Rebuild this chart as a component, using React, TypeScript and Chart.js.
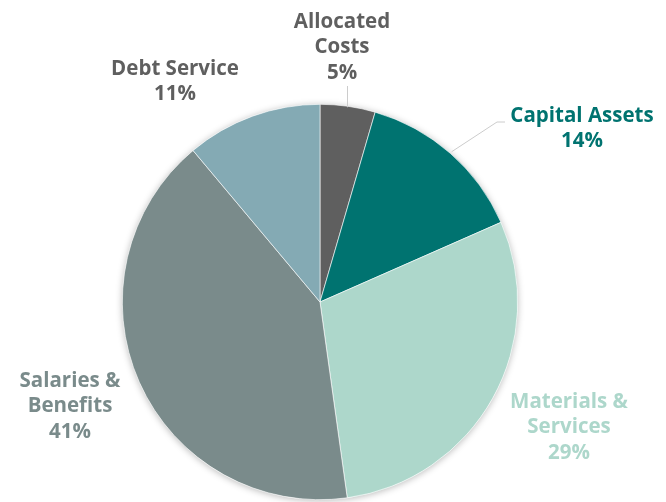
import React, { useEffect, useRef } from "react";
import { Chart, registerables } from "chart.js";

Chart.register(...registerables);

const categories = ["Allocated Costs", "Capital Assets", "Materials & Services", "Salaries & Benefits", "Debt Service"];
const values = [4.5, 13.9, 29.4, 41.1, 11.1];
const sliceColors = ["#5f5f5f", "#007370", "#add7cb", "#7a8b8b", "#84aab4"];
const labelLines = [["Allocated", "Costs"], ["Capital Assets"], ["Materials &", "Services"], ["Salaries &", "Benefits"], ["Debt Service"]];
const labelColors = ["#5f5f5f", "#007370", "#add7cb", "#7a8b8b", "#5f5f5f"];

// label centre (first line) relative to pie centre
const labelAnchor = [
  [22, -280],
  [262, -186],
  [249, 100],
  [-250, 79],
  [-145, -233],
];

const FONT = "bold 20.5px 'Open Sans', sans-serif";
const LH = 25.5;

const labelPlugin = {
  id: "outLabels",
  beforeDatasetsDraw(chart: any) {
    const ctx = chart.ctx;
    ctx.save();
    ctx.shadowColor = "rgba(0,0,0,0.28)";
    ctx.shadowBlur = 7;
    ctx.shadowOffsetX = 0;
    ctx.shadowOffsetY = 1;
    const arc = chart.getDatasetMeta(0).data[0];
    ctx.beginPath();
    ctx.arc(arc.x, arc.y, arc.outerRadius, 0, Math.PI * 2);
    ctx.fillStyle = "#ffffff";
    ctx.fill();
    ctx.restore();
  },
  afterDatasetsDraw(chart: any) {
    const ctx = chart.ctx;
    const meta = chart.getDatasetMeta(0);
    const total = values.reduce((a, b) => a + b, 0);
    ctx.save();
    const a0 = meta.data[0];
    const cx = a0.x, cy = a0.y, r = a0.outerRadius;
    ctx.strokeStyle = "#cccccc";
    ctx.lineWidth = 1;
    {
      const el = meta.data[0];
      const mid = (el.startAngle + el.endAngle) / 2;
      const py = cy + Math.sin(mid) * r;
      ctx.beginPath();
      ctx.moveTo(cx + labelAnchor[0][0] + 5.5, py + 1);
      ctx.lineTo(cx + labelAnchor[0][0] + 5.5, cy + labelAnchor[0][1] + 2 * LH + 13);
      ctx.stroke();
    }
    {
      const el = meta.data[1];
      const mid = (el.startAngle + el.endAngle) / 2;
      const px = cx + Math.cos(mid) * (r + 2);
      const py = cy + Math.sin(mid) * (r + 2);
      const ly = cy + labelAnchor[1][1] + 6;
      ctx.beginPath();
      ctx.moveTo(px, py);
      ctx.lineTo(cx + 177, ly);
      ctx.lineTo(cx + 185, ly);
      ctx.stroke();
    }
    ctx.font = FONT;
    ctx.textAlign = "center";
    ctx.textBaseline = "middle";
    meta.data.forEach((el: any, i: number) => {
      const pct = Math.round((values[i] / total) * 100) + "%";
      const lines = [...labelLines[i], pct];
      ctx.fillStyle = labelColors[i];
      lines.forEach((t, k) => {
        ctx.fillText(t, cx + labelAnchor[i][0], cy + labelAnchor[i][1] + k * LH);
      });
    });
    ctx.restore();
  },
};

export default function App() {
  const ref = useRef<HTMLCanvasElement>(null);
  useEffect(() => {
    if (!ref.current) return;
    const chart = new Chart(ref.current, {
      type: "pie",
      data: {
        labels: categories,
        datasets: [
          {
            data: values,
            backgroundColor: sliceColors,
            borderWidth: 0.6,
            borderColor: "#ffffff",
          },
        ],
      },
      options: {
        animation: false,
        responsive: false,
        maintainAspectRatio: false,
        layout: { padding: { top: 104, bottom: 2, left: 122, right: 148 } },
        plugins: {
          legend: { display: false },
          tooltip: { enabled: false },
        },
      },
      plugins: [labelPlugin],
    });
    return () => chart.destroy();
  }, []);
  return (
    <div style={{ position: "fixed", left: 0, top: 0, width: 666, height: 502, background: "#fff" }}>
      <canvas ref={ref} width={666} height={502} style={{ width: 666, height: 502 }} />
    </div>
  );
}
